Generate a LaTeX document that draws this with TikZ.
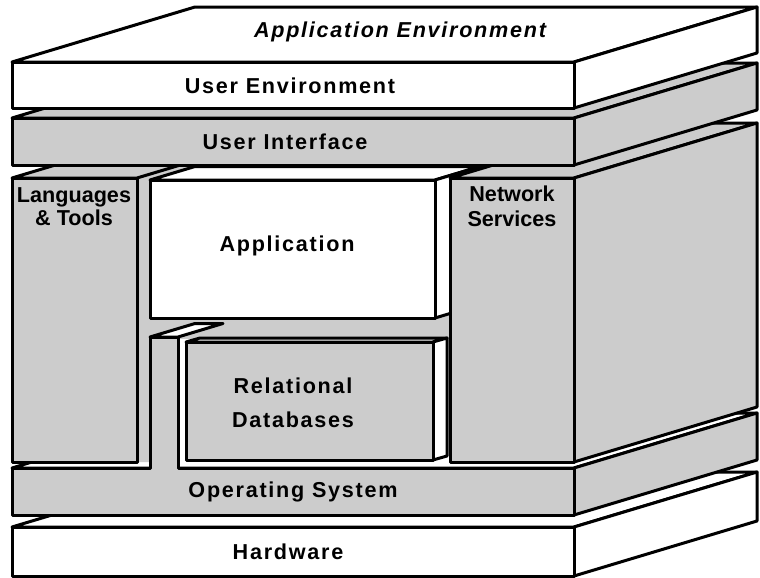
\documentclass[tikz,border=0pt]{standalone}
\usepackage{fontspec}
\setmainfont{Liberation Sans}
\newfontfamily\spacedfont[LetterSpace=8]{Liberation Sans}
\usetikzlibrary{math}

\begin{document}
\begin{tikzpicture}[x=0.5pt, y=-0.5pt,
    face/.style={draw=black, line width=1.5pt, line join=round, fill=white},
    dotface/.style={face, fill=black!20},
    lbl/.style={inner sep=0pt, align=center, font=\spacedfont\bfseries\fontsize{10.8}{13}\selectfont},
    sublbl/.style={inner sep=0pt, align=center, font=\bfseries\fontsize{10.8}{11.5}\selectfont}]
      \tikzmath{\l = 12; \r = 574; \dx = 183; \dy = -55; \b = \r + \dx; \sx = 45; \sy = -13.5;}
      \useasboundingbox (0,0) rectangle (760,578);
      \path[face] (\l,527) -- ++(\dx,\dy) -- (\b,527+\dy) -- (\r,527) -- cycle;
      \path[face] (\r,527) -- (\b,527+\dy) -- (\b,576+\dy) -- (\r,576) -- cycle;
      \path[face] (\l,527) rectangle (\r,576);
      \node[lbl] (hardware) at (288,552) {Hardware};
      \path[face] (\l,468) -- ++(\dx,\dy) -- (\b,468+\dy) -- (\r,468) -- cycle;
      \path[dotface] (\r,468) -- (\b,468+\dy) -- (\b,515+\dy) -- (\r,515) -- cycle;
      \path[fill=black!20] (\l,178) -- (55,165) -- (\r,165) -- (\r,462) -- (\l,462) -- cycle;
      \path[dotface] (\l,468) -- (150,468) -- (150,337) -- (178,337) -- (178,468) -- (\r,468) -- (\r,515) -- (\l,515) -- cycle;
      \path[face] (150,337) -- ++(\sx,\sy) -- ++(28,0) -- (178,337) -- cycle;
      \node[lbl] (os) at (293,492) {Operating System};
      \path[fill=white] (180,339) rectangle (452,466);
      \path[dotface] (\l,178) -- ++(\sx,\sy) -- (137+\sx,178+\sy) -- (137,178) -- cycle;
      \path[dotface] (\l,178) rectangle (137,462);
      \node[sublbl] (tools) at (74,207) {Languages\\\& Tools};
      \path[face] (186,342) -- ++(14,-4) -- (447,338) -- (433,342) -- cycle;
      \path[face] (433,342) -- (447,338) -- (447,456) -- (433,460) -- cycle;
      \path[dotface] (186,342) rectangle (433,460);
      \node[lbl, font=\spacedfont\bfseries\fontsize{10.8}{17}\selectfont] (rdb) at (293,403) {Relational\\Databases};
      \path[face] (150,180) -- ++(\sx,\sy) -- (435+\sx,180+\sy) -- (435,180) -- cycle;
      \path[face] (435,180) -- ++(\sx,\sy) -- (435+\sx,318+\sy) -- (435,318) -- cycle;
      \path[face] (150,180) rectangle (435,318);
      \node[lbl] (app) at (287,246) {Application};
      \path[dotface] (450,178) -- ++(\dx,\dy) -- (\b,178+\dy) -- (\r,178) -- cycle;
      \path[dotface] (\r,178) -- (\b,178+\dy) -- (\b,462+\dy) -- (\r,462) -- cycle;
      \path[dotface] (450,178) rectangle (\r,462);
      \node[sublbl, font=\bfseries\fontsize{10.8}{12.5}\selectfont] (net) at (512,206) {Network\\Services};
      \path[dotface] (\l,118) -- ++(\dx,\dy) -- (\b,118+\dy) -- (\r,118) -- cycle;
      \path[dotface] (\r,118) -- (\b,118+\dy) -- (\b,165+\dy) -- (\r,165) -- cycle;
      \path[dotface] (\l,118) rectangle (\r,165);
      \node[lbl] (ui) at (285,142) {User Interface};
      \path[face] (\l,62) -- ++(\dx,\dy) -- (\b,62+\dy) -- (\r,62) -- cycle;
      \path[face] (\r,62) -- (\b,62+\dy) -- (\b,108+\dy) -- (\r,108) -- cycle;
      \path[face] (\l,62) rectangle (\r,108);
      \node[lbl] (ue) at (290,86) {User Environment};
      \node[lbl, font=\spacedfont\bfseries\itshape\fontsize{10.8}{13}\selectfont] (appenv) at (400,32) {Application Environment};
\end{tikzpicture}
\end{document}
